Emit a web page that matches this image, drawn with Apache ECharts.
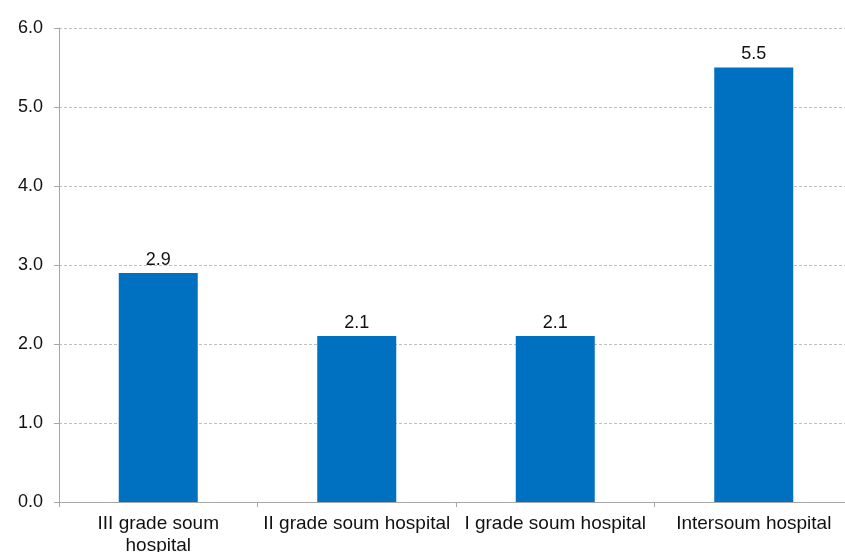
<!DOCTYPE html>
<html>
<head>
<meta charset="utf-8">
<script src="https://cdn.jsdelivr.net/npm/echarts@6/dist/echarts.min.js"></script>
<style>html,body{margin:0;padding:0;background:#fff}#c{width:845px;height:552px}</style>
</head>
<body>
<div id="c"></div>
<script>
const categories = ['III grade soum\nhospital', 'II grade soum hospital', 'I grade soum hospital', 'Intersoum hospital'];
const values = [2.9, 2.1, 2.1, 5.5];
const yTicks = [0, 1, 2, 3, 4, 5, 6];

const FONT = 'Liberation Sans, Arial, sans-serif';
const chart = echarts.init(document.getElementById('c'));
chart.setOption({
  animation: false,
  grid: { left: 59, top: 28, height: 474, width: 794, containLabel: false, outerBoundsMode: 'none' },
  xAxis: {
    type: 'category',
    data: categories,
    axisLine: { lineStyle: { color: '#A6A6A6', width: 1 } },
    axisTick: { show: true, length: 5, alignWithLabel: false, lineStyle: { color: '#A6A6A6' } },
    axisLabel: { interval: 0, margin: 11, color: '#111', fontSize: 19, fontFamily: FONT, lineHeight: 22 }
  },
  yAxis: {
    type: 'value',
    min: yTicks[0],
    max: yTicks[yTicks.length - 1],
    interval: 1,
    axisLine: { show: true, lineStyle: { color: '#A6A6A6', width: 1 } },
    axisTick: { show: true, length: 5, lineStyle: { color: '#A6A6A6' } },
    axisLabel: { margin: 16, color: '#111', fontSize: 18, fontFamily: FONT, formatter: v => v.toFixed(1) },
    splitLine: { lineStyle: { color: '#BFBFBF', type: [3, 2], width: 1 } }
  },
  series: [{
    type: 'bar',
    data: values,
    barWidth: 79,
    itemStyle: { color: '#0070C0' },
    label: { show: true, position: 'top', distance: 4, color: '#111', fontSize: 18, fontFamily: FONT, formatter: p => p.value.toFixed(1) }
  }]
});
</script>
</body>
</html>
